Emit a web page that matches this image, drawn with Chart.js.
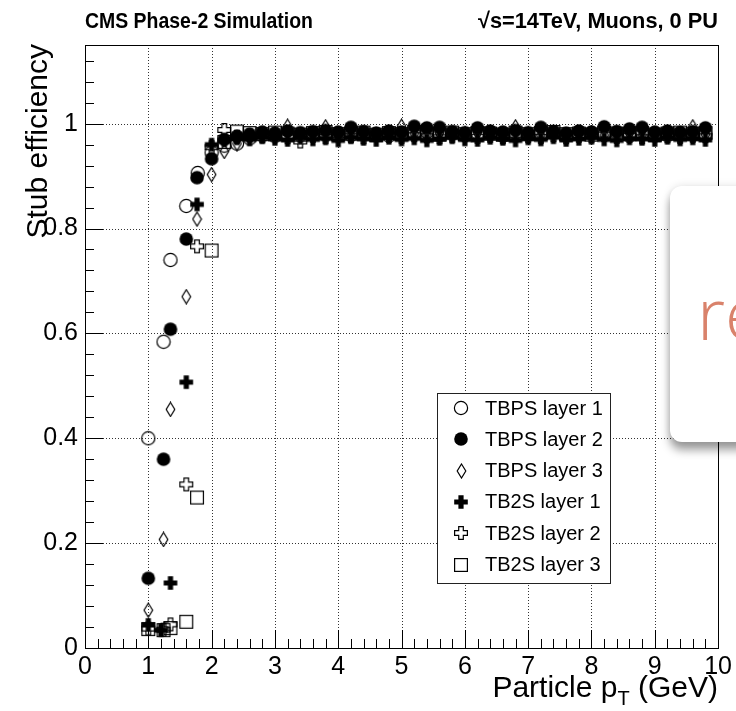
<!DOCTYPE html>
<html>
<head>
<meta charset="utf-8">
<script src="https://cdn.jsdelivr.net/npm/chart.js@4.4.0/dist/chart.umd.min.js"></script>
<style>
    body { margin: 0; background: #fff; overflow: hidden; }
    #wrap { position: relative; width: 736px; height: 711px; overflow: hidden; }
    #effChart { position: absolute; left: 0; top: 0; }
    #popup {
        position: absolute; left: 670px; top: 186px; width: 100px; height: 256px;
        background: #fff; border-radius: 12px;
        box-shadow: 0 8px 10px rgba(0, 0, 0, 0.38), 0 0 8px rgba(0, 0, 0, 0.12);
    }
    #popup span {
        position: absolute; left: 27px; top: 90px;
        font-family: 'Open Sans', sans-serif; font-weight: 300; font-size: 72px; line-height: 72px;
        color: #d9826b;
    }
</style>
</head>
<body>
<div id="wrap">
    <canvas id="effChart" width="736" height="711"></canvas>
    <div id="popup"><span>re</span></div>
</div>
<script>
const ctx = document.getElementById('effChart').getContext('2d');

// Plateau pT bins (GeV), shared by all layers
const plateauPt = [2.2, 2.4, 2.6, 2.8, 3.0, 3.2, 3.4, 3.6, 3.8, 4.0, 4.2, 4.4, 4.6, 4.8, 5.0,
                   5.2, 5.4, 5.6, 5.8, 6.0, 6.2, 6.4, 6.6, 6.8, 7.0, 7.2, 7.4, 7.6, 7.8, 8.0,
                   8.2, 8.4, 8.6, 8.8, 9.0, 9.2, 9.4, 9.6, 9.8];

// TBPS layer 1 (open circle)
const tbps1RiseX = [1.0, 1.24, 1.35, 1.6, 1.78, 2.0];
const tbps1RiseY = [0.40, 0.584, 0.74, 0.843, 0.906, 0.945];
const tbps1Plateau = [0.958, 0.962, 0.972, 0.978, 0.976, 0.980, 0.978, 0.982, 0.979, 0.981, 0.978, 0.983, 0.980,
                      0.977, 0.982, 0.980, 0.984, 0.979, 0.981, 0.978, 0.982, 0.980, 0.977, 0.983, 0.979, 0.981,
                      0.984, 0.978, 0.980, 0.982, 0.979, 0.983, 0.977, 0.981, 0.980, 0.978, 0.982, 0.979, 0.981];

// TBPS layer 2 (full circle)
const tbps2RiseX = [1.0, 1.24, 1.35, 1.6, 1.77, 2.0];
const tbps2RiseY = [0.133, 0.36, 0.608, 0.78, 0.897, 0.933];
const tbps2Plateau = [0.970, 0.976, 0.980, 0.984, 0.982, 0.986, 0.983, 0.985, 0.987, 0.984, 0.993, 0.985, 0.982,
                      0.986, 0.984, 0.995, 0.992, 0.993, 0.985, 0.983, 0.992, 0.986, 0.984, 0.987, 0.983, 0.993,
                      0.985, 0.982, 0.986, 0.984, 0.994, 0.985, 0.990, 0.993, 0.984, 0.986, 0.983, 0.985, 0.992];

// TBPS layer 3 (open diamond)
const tbps3RiseX = [1.0, 1.24, 1.35, 1.6, 1.77, 2.0];
const tbps3RiseY = [0.072, 0.207, 0.455, 0.67, 0.818, 0.903];
const tbps3Plateau = [0.947, 0.962, 0.974, 0.978, 0.980, 0.995, 0.979, 0.981, 0.994, 0.978, 0.982, 0.980, 0.977,
                      0.983, 0.995, 0.981, 0.979, 0.982, 0.978, 0.980, 0.983, 0.979, 0.981, 0.994, 0.980, 0.978,
                      0.982, 0.979, 0.981, 0.983, 0.978, 0.980, 0.982, 0.979, 0.981, 0.978, 0.980, 0.994, 0.979];

// TB2S layer 1 (full cross)
const tb2s1RiseX = [1.0, 1.2, 1.35, 1.6, 1.77, 2.0];
const tb2s1RiseY = [0.044, 0.034, 0.124, 0.507, 0.846, 0.96];
const tb2s1Plateau = [0.968, 0.972, 0.970, 0.974, 0.971, 0.969, 0.973, 0.970, 0.972, 0.968, 0.974, 0.971, 0.969,
                      0.973, 0.970, 0.972, 0.968, 0.971, 0.974, 0.970, 0.969, 0.973, 0.971, 0.968, 0.972, 0.970,
                      0.974, 0.969, 0.971, 0.973, 0.970, 0.968, 0.972, 0.971, 0.969, 0.973, 0.970, 0.972, 0.969];

// TB2S layer 2 (open cross)
const tb2s2RiseX = [1.0, 1.24, 1.35, 1.6, 1.77, 2.0];
const tb2s2RiseY = [0.037, 0.035, 0.045, 0.312, 0.766, 0.955];
const tb2s2Plateau = [0.988, 0.975, 0.978, 0.976, 0.979, 0.974, 0.966, 0.977, 0.975, 0.978, 0.976, 0.974, 0.979,
                      0.977, 0.975, 0.978, 0.976, 0.974, 0.977, 0.979, 0.975, 0.977, 0.974, 0.978, 0.976, 0.975,
                      0.978, 0.974, 0.977, 0.976, 0.979, 0.975, 0.977, 0.974, 0.978, 0.976, 0.975, 0.977, 0.976];

// TB2S layer 3 (open square)
const tb2s3RiseX = [1.0, 1.24, 1.35, 1.6, 1.77, 2.0];
const tb2s3RiseY = [0.036, 0.034, 0.038, 0.05, 0.287, 0.758];
const tb2s3Plateau = [0.965, 0.985, 0.982, 0.980, 0.983, 0.981, 0.979, 0.982, 0.984, 0.980, 0.981, 0.983, 0.979,
                      0.982, 0.980, 0.984, 0.981, 0.979, 0.983, 0.980, 0.982, 0.981, 0.979, 0.983, 0.980, 0.982,
                      0.984, 0.980, 0.981, 0.979, 0.983, 0.981, 0.980, 0.982, 0.979, 0.981, 0.983, 0.980, 0.982];

const seriesLabels = ['TBPS layer 1', 'TBPS layer 2', 'TBPS layer 3', 'TB2S layer 1', 'TB2S layer 2', 'TB2S layer 3'];
const xTicks = [0, 1, 2, 3, 4, 5, 6, 7, 8, 9, 10];
const yTicks = [0, 0.2, 0.4, 0.6, 0.8, 1.0];

// ROOT style marker images
function plusPath(g, cx, cy, r, a) {
    g.beginPath();
    g.moveTo(cx - a, cy - r); g.lineTo(cx + a, cy - r); g.lineTo(cx + a, cy - a);
    g.lineTo(cx + r, cy - a); g.lineTo(cx + r, cy + a); g.lineTo(cx + a, cy + a);
    g.lineTo(cx + a, cy + r); g.lineTo(cx - a, cy + r); g.lineTo(cx - a, cy + a);
    g.lineTo(cx - r, cy + a); g.lineTo(cx - r, cy - a); g.lineTo(cx - a, cy - a);
    g.closePath();
}

function makeMarker(kind) {
    const c = document.createElement('canvas');
    c.width = kind === 'diamond' ? 11 : 16;
    c.height = 16;
    const g = c.getContext('2d');
    const cx = c.width / 2, cy = c.height / 2;
    g.strokeStyle = '#000';
    g.fillStyle = '#000';
    g.lineWidth = 1.2;
    if (kind === 'openCircle') {
        g.beginPath(); g.arc(cx, cy, 6.6, 0, 2 * Math.PI); g.stroke();
    } else if (kind === 'fullCircle') {
        g.beginPath(); g.arc(cx, cy, 6.8, 0, 2 * Math.PI); g.fill();
    } else if (kind === 'diamond') {
        g.beginPath();
        g.moveTo(cx, 1); g.lineTo(c.width - 1.2, cy); g.lineTo(cx, c.height - 1); g.lineTo(1.2, cy);
        g.closePath(); g.stroke();
    } else if (kind === 'fullCross') {
        plusPath(g, cx, cy, 6.8, 2.6); g.fill();
    } else if (kind === 'openCross') {
        plusPath(g, cx, cy, 6.4, 2.3); g.stroke();
    } else {
        g.strokeRect(1.6, 1.6, 12.8, 12.8);
    }
    return c;
}

const markers = ['openCircle', 'fullCircle', 'diamond', 'fullCross', 'openCross', 'square'].map(makeMarker);

function buildPoints(riseX, riseY, plateau) {
    const pts = riseX.map((x, i) => ({ x: x, y: riseY[i] }));
    plateauPt.forEach((x, i) => pts.push({ x: x, y: plateau[i] }));
    return pts;
}

const allData = [
    buildPoints(tbps1RiseX, tbps1RiseY, tbps1Plateau),
    buildPoints(tbps2RiseX, tbps2RiseY, tbps2Plateau),
    buildPoints(tbps3RiseX, tbps3RiseY, tbps3Plateau),
    buildPoints(tb2s1RiseX, tb2s1RiseY, tb2s1Plateau),
    buildPoints(tb2s2RiseX, tb2s2RiseY, tb2s2Plateau),
    buildPoints(tb2s3RiseX, tb2s3RiseY, tb2s3Plateau)
];

const datasets = allData.map((pts, i) => ({
    label: seriesLabels[i],
    data: pts,
    pointStyle: markers[i],
    pointRadius: 7,
    showLine: false
}));

// Dotted grid, inward ticks, frame, legend and texts drawn ROOT-like
const rootStyle = {
    id: 'rootStyle',
    beforeDatasetsDraw(chart) {
        const { ctx, chartArea: a, scales: { x, y } } = chart;
        ctx.save();
        ctx.strokeStyle = '#333';
        ctx.lineWidth = 1;
        ctx.setLineDash([1, 2]);
        ctx.beginPath();
        xTicks.slice(1, -1).forEach(v => {
            const px = Math.round(x.getPixelForValue(v)) + 0.5;
            ctx.moveTo(px, a.top); ctx.lineTo(px, a.bottom);
        });
        yTicks.slice(1).forEach(v => {
            const py = Math.round(y.getPixelForValue(v)) + 0.5;
            ctx.moveTo(a.left, py); ctx.lineTo(a.right, py);
        });
        ctx.stroke();
        ctx.restore();
    },
    afterDatasetsDraw(chart) {
        const { ctx, chartArea: a, scales: { x, y } } = chart;
        ctx.save();
        ctx.strokeStyle = '#000';
        ctx.lineWidth = 1;
        ctx.beginPath();
        // x ticks: major every 1, minor every 0.2
        for (let k = 0; k <= 50; k++) {
            const px = Math.round(x.getPixelForValue(k * 0.2)) + 0.5;
            const len = k % 5 === 0 ? 18 : 9;
            ctx.moveTo(px, a.bottom); ctx.lineTo(px, a.bottom - len);
        }
        // y ticks: major every 0.2, minor every 0.04
        for (let k = 0; k <= 28; k++) {
            const py = Math.round(y.getPixelForValue(k * 0.04)) + 0.5;
            const len = k % 5 === 0 ? 18 : 9;
            ctx.moveTo(a.left, py); ctx.lineTo(a.left + len, py);
        }
        ctx.stroke();
        ctx.strokeRect(Math.round(a.left) + 0.5, Math.round(a.top) + 0.5,
                       Math.round(a.right - a.left), Math.round(a.bottom - a.top));

        // legend box
        const lx = 437, ly = 393, lw = 173, lh = 190;
        ctx.fillStyle = '#fff';
        ctx.fillRect(lx, ly, lw, lh);
        ctx.strokeStyle = '#222';
        ctx.strokeRect(lx + 0.5, ly + 0.5, lw, lh);
        ctx.fillStyle = '#000';
        ctx.font = '20px "Liberation Sans", Arial, sans-serif';
        ctx.textBaseline = 'middle';
        ctx.textAlign = 'left';
        seriesLabels.forEach((lab, i) => {
            const ry = 408 + i * 31.3;
            const m = markers[i];
            ctx.drawImage(m, Math.round(461 - m.width / 2), Math.round(ry - m.height / 2));
            ctx.fillText(lab, 485, ry + 1);
        });
        ctx.restore();
    },
    afterDraw(chart) {
        const { ctx } = chart;
        ctx.save();
        ctx.fillStyle = '#000';
        ctx.textBaseline = 'alphabetic';

        // header texts, squeezed to the width of the original
        function squeezed(text, xPos, baseY, targetW, alignRight) {
            ctx.font = 'bold 22px "Liberation Sans", Arial, sans-serif';
            const w = ctx.measureText(text).width;
            const sx = targetW / w;
            ctx.save();
            ctx.translate(alignRight ? xPos - targetW : xPos, baseY);
            ctx.scale(sx, 1);
            ctx.textAlign = 'left';
            ctx.fillText(text, 0, 0);
            ctx.restore();
        }
        squeezed('CMS Phase-2 Simulation', 85, 28, 228, false);
        squeezed('\u221As=14TeV, Muons, 0 PU', 718, 28, 240, true);

        // y axis title
        ctx.save();
        ctx.font = '30px "Liberation Sans", Arial, sans-serif';
        ctx.translate(47, 44);
        ctx.rotate(-Math.PI / 2);
        ctx.textAlign = 'right';
        ctx.fillText('Stub efficiency', 0, 0);
        ctx.restore();

        // x axis title with subscript
        const big = '30px "Liberation Sans", Arial, sans-serif';
        const small = '20px "Liberation Sans", Arial, sans-serif';
        ctx.font = big;
        const w1 = ctx.measureText('Particle p').width;
        const w3 = ctx.measureText(' (GeV)').width;
        ctx.font = small;
        const w2 = ctx.measureText('T').width;
        let tx = 718 - (w1 + w2 + w3);
        const base = 697;
        ctx.textAlign = 'left';
        ctx.font = big;
        ctx.fillText('Particle p', tx, base);
        tx += w1;
        ctx.font = small;
        ctx.fillText('T', tx, base + 8);
        tx += w2;
        ctx.font = big;
        ctx.fillText(' (GeV)', tx, base);
        ctx.restore();
    }
};

const tickFont = { family: '"Liberation Sans", Arial, sans-serif', size: 25 };

let chart = new Chart(ctx, {
    type: 'scatter',
    data: { datasets: datasets },
    options: {
        responsive: false,
        animation: false,
        devicePixelRatio: 1,
        layout: { padding: { top: 45, right: 17, left: 0, bottom: 0 } },
        plugins: {
            legend: { display: false },
            tooltip: { enabled: false }
        },
        scales: {
            x: {
                type: 'linear',
                min: 0,
                max: 10,
                grid: { display: false, drawTicks: false },
                border: { display: false },
                afterFit: s => { s.height = 63; },
                afterBuildTicks: s => { s.ticks = xTicks.map(v => ({ value: v })); },
                ticks: { font: tickFont, color: '#000', padding: 4, maxRotation: 0, callback: v => String(v) }
            },
            y: {
                type: 'linear',
                min: 0,
                max: 1.15,
                grid: { display: false, drawTicks: false },
                border: { display: false },
                afterFit: s => { s.width = 85; },
                afterBuildTicks: s => { s.ticks = yTicks.map(v => ({ value: v })); },
                ticks: { font: tickFont, color: '#000', padding: 7, callback: v => String(+v.toFixed(1)) }
            }
        }
    },
    plugins: [rootStyle]
});
</script>
</body>
</html>
